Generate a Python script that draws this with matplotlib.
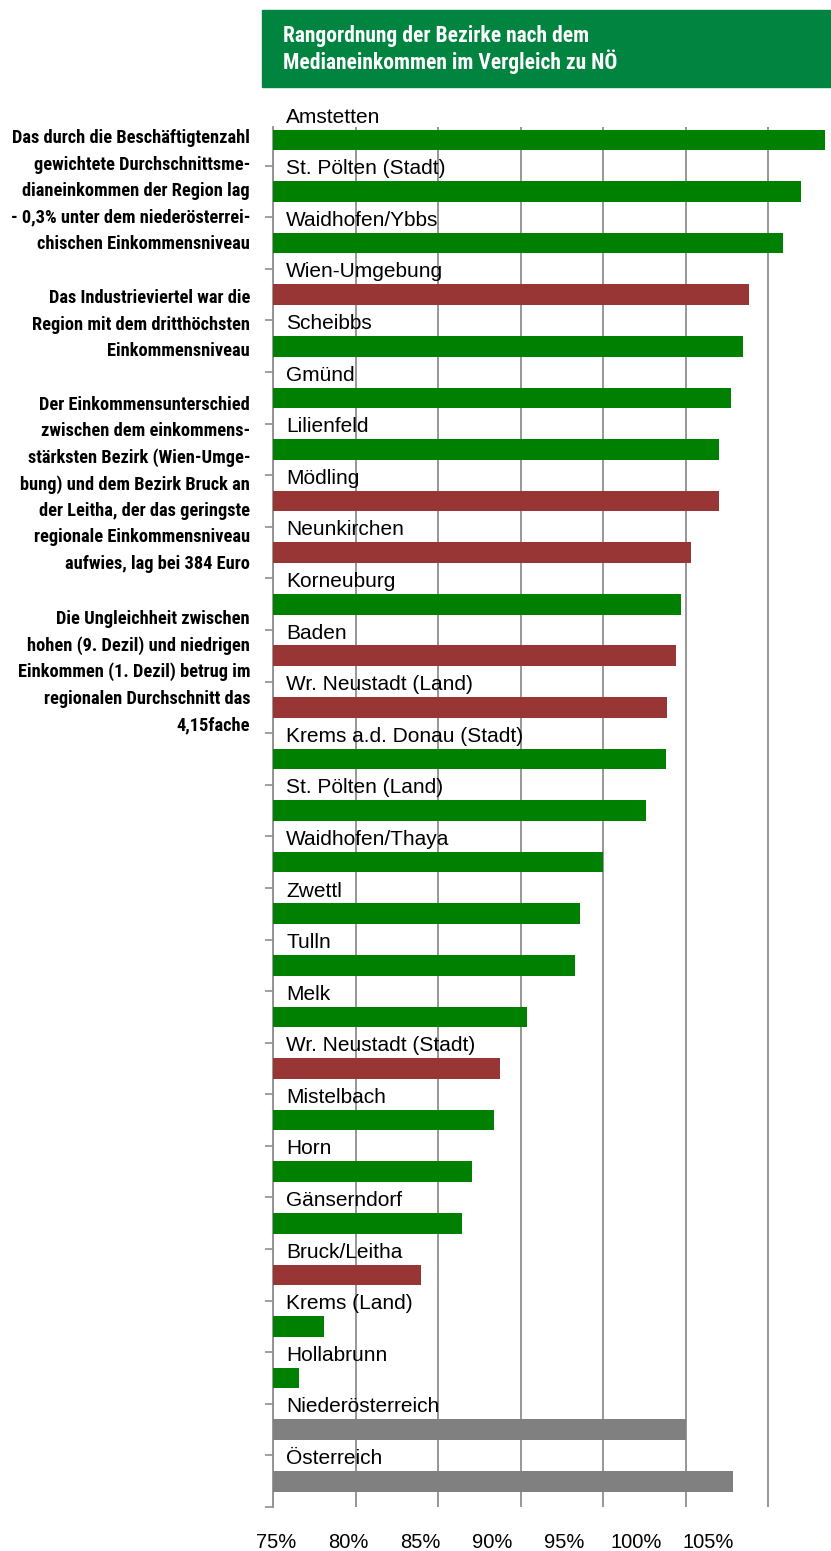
import matplotlib
matplotlib.use("Agg")
import matplotlib.pyplot as plt
import matplotlib.transforms as mtransforms
import numpy as np

# Bezirke, sortiert nach Medianeinkommen (NÖ = 100 %)
bezirke = ["Amstetten", "St. Pölten (Stadt)", "Waidhofen/Ybbs", "Wien-Umgebung",
           "Scheibbs", "Gmünd", "Lilienfeld", "Mödling", "Neunkirchen",
           "Korneuburg", "Baden", "Wr. Neustadt (Land)", "Krems a.d. Donau (Stadt)",
           "St. Pölten (Land)", "Waidhofen/Thaya", "Zwettl", "Tulln", "Melk",
           "Wr. Neustadt (Stadt)", "Mistelbach", "Horn", "Gänserndorf",
           "Bruck/Leitha", "Krems (Land)", "Hollabrunn", "Niederösterreich",
           "Österreich"]
werte = [108.45, 107.0, 105.9, 103.85, 103.5, 102.75, 102.05, 102.05, 100.35,
         99.75, 99.4, 98.9, 98.8, 97.6, 95.0, 93.6, 93.3, 90.4, 88.75, 88.4,
         87.05, 86.45, 83.95, 78.1, 76.55, 100.0, 102.9]
# g = Mostviertel/Waldviertel/Weinviertel, r = Industrieviertel, x = Referenz
gruppe = ["g", "g", "g", "r", "g", "g", "g", "r", "r", "g", "r", "r", "g", "g",
          "g", "g", "g", "g", "r", "g", "g", "g", "r", "g", "g", "x", "x"]
x_ticks = [75, 80, 85, 90, 95, 100, 105]
x_labels = ["75%", "80%", "85%", "90%", "95%", "100%", "105%"]

titel = "Rangordnung der Bezirke nach dem\nMedianeinkommen im Vergleich zu NÖ"
notizen = [
    ["Das durch die Beschäftigtenzahl", "gewichtete Durchschnittsme-",
     "dianeinkommen der Region lag", "- 0,3% unter dem niederösterrei-",
     "chischen Einkommensniveau"],
    ["Das Industrieviertel war die", "Region mit dem dritthöchsten",
     "Einkommensniveau"],
    ["Der Einkommensunterschied", "zwischen dem einkommens-",
     "stärksten Bezirk (Wien-Umge-", "bung) und dem Bezirk Bruck an",
     "der Leitha, der das geringste", "regionale Einkommensniveau",
     "aufwies, lag bei 384 Euro"],
    ["Die Ungleichheit zwischen", "hohen (9. Dezil) und niedrigen",
     "Einkommen (1. Dezil) betrug im", "regionalen Durchschnitt das",
     "4,15fache"],
]
notiz_start = [138, 298, 405, 619]   # y der ersten Zeile in Pixeln

farben = {"g": "#008000", "r": "#983636", "x": "#808080"}
grau = "#8f8f8f"
narrow = ["Roboto Condensed", "Liberation Sans Narrow", "Roboto", "DejaVu Sans"]

W, H = 831, 1551
fig = plt.figure(figsize=(W / 100, H / 100), dpi=100)
fig.patch.set_facecolor("white")

ax = fig.add_axes([273 / W, 44 / H, (W - 273) / W, 1380 / H])
y = np.arange(len(bezirke))
ax.barh(y, np.array(werte) - 75, left=75, height=0.4,
        color=[farben[g] for g in gruppe], zorder=3)

ax.set_xlim(75, 75 + (W - 273) / 16.5)
ax.set_ylim(len(bezirke) - 0.5, -0.25)

ax.set_xticks(x_ticks)
ax.set_xticklabels([])
ax.tick_params(axis="x", length=0)
ax.grid(axis="x", color=grau, lw=1.3, zorder=0)
ax.set_axisbelow(True)

ax.set_yticks(np.arange(len(bezirke)) + 0.5)
ax.set_yticklabels([])
ax.tick_params(axis="y", length=6, width=1.2, color=grau, direction="out")
for s in ["top", "right", "bottom"]:
    ax.spines[s].set_visible(False)
ax.spines["left"].set_color(grau)
ax.spines["left"].set_linewidth(1.3)

# Bezirksnamen über den Balken
trans = mtransforms.blended_transform_factory(ax.transAxes, ax.transData)
for i, name in enumerate(bezirke):
    ax.annotate(name, xy=(0, i - 0.44), xycoords=trans, xytext=(9.5, 0),
                textcoords="offset points", va="center", ha="left",
                fontsize=15, family="Liberation Sans", annotation_clip=False)

# Achsenbeschriftung unten
for k, lab in enumerate(x_labels):
    fig.text((276 + 72 * k) / W, 1 - 1542 / H, lab, ha="center", va="center",
             fontsize=14.5, family="Liberation Sans")

# Titelkasten
fig.patches.append(plt.Rectangle((262 / W, 1 - 87 / H), (W - 262) / W, 77 / H,
                                 transform=fig.transFigure, color="#00843f",
                                 zorder=0))
fig.text(283 / W, 1 - 49.5 / H, titel, color="white", fontsize=15.5,
         fontweight="bold", family=narrow, ha="left", va="center",
         linespacing=1.12)

# Textnotizen links
for zeilen, y0 in zip(notizen, notiz_start):
    for j, z in enumerate(zeilen):
        fig.text(250 / W, 1 - (y0 + 26.5 * j) / H, z, ha="right", va="center",
                 fontsize=13.2, fontweight="bold", family=narrow)

fig.savefig("out.png", dpi=100)
